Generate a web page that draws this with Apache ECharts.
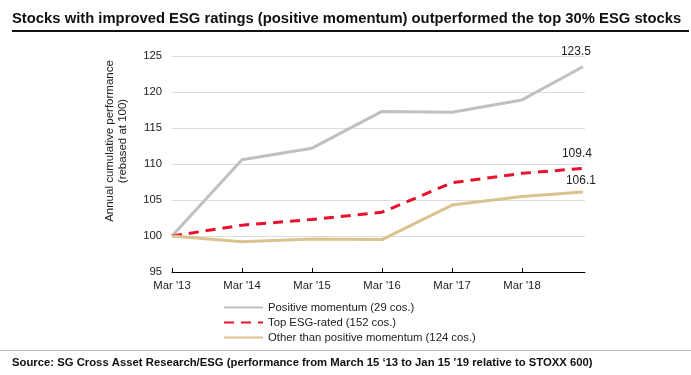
<!DOCTYPE html>
<html>
<head>
<meta charset="utf-8">
<script src="https://cdn.jsdelivr.net/npm/echarts@6/dist/echarts.min.js"></script>
<style>
  html, body { margin: 0; padding: 0; background: #fff; }
  #chart { width: 691px; height: 375px; }
</style>
</head>
<body>
<div id="chart"></div>
<script>
// x positions in years since Mar '13 (last point is Jan '19)
var xPos = [0, 1, 2, 3, 4, 5, 5.87];
var tickLabels = ["Mar '13", "Mar '14", "Mar '15", "Mar '16", "Mar '17", "Mar '18"];
var positiveMomentum = [100, 110.6, 112.2, 117.3, 117.2, 118.9, 123.5];
var topEsgRated = [100, 101.5, 102.3, 103.3, 107.4, 108.7, 109.4];
var otherThanPositive = [100, 99.2, 99.6, 99.5, 104.3, 105.5, 106.1];
var seriesNames = ['Positive momentum (29 cos.)', 'Top ESG-rated (152 cos.)', 'Other than positive momentum (124 cos.)'];

var FONT = 'Liberation Sans';

function pairs(values) {
  return values.map(function (v, i) { return [xPos[i], v]; });
}

function endLabel(offset) {
  return {
    show: true,
    offset: offset,
    color: '#222',
    fontSize: 12,
    fontFamily: FONT,
    formatter: function (p) { return p.value[1].toFixed(1); }
  };
}

var chart = echarts.init(document.getElementById('chart'));

var option = {
  animation: false,
  textStyle: { fontFamily: FONT },
  title: {
    text: 'Stocks with improved ESG ratings (positive momentum) outperformed the top 30% ESG stocks',
    left: 7,
    top: 6,
    textStyle: { fontSize: 14.8, fontWeight: 'bold', color: '#111', fontFamily: FONT }
  },
  grid: { left: 172, right: 106, top: 56, bottom: 103 },
  legend: {
    orient: 'vertical',
    left: 218,
    top: 297,
    itemWidth: 39,
    itemHeight: 12,
    itemGap: 4,
    itemStyle: { opacity: 0 },
    textStyle: { fontSize: 11.3, color: '#222', fontFamily: FONT },
    data: seriesNames
  },
  xAxis: {
    type: 'value',
    min: 0,
    max: 5.9,
    interval: 1,
    axisLine: { show: true, lineStyle: { color: '#000', width: 1 } },
    axisTick: { show: true, inside: true, length: 4, lineStyle: { color: '#000' } },
    splitLine: { show: false },
    axisLabel: {
      color: '#222',
      fontSize: 11.3,
      margin: 8,
      showMaxLabel: false,
      formatter: function (v) {
        var i = Math.round(v);
        return tickLabels[i] !== undefined && Math.abs(v - i) < 1e-6 ? tickLabels[i] : '';
      }
    }
  },
  yAxis: {
    type: 'value',
    min: 95,
    max: 125,
    interval: 5,
    axisLine: { show: false },
    axisTick: { show: false },
    splitLine: { show: true, lineStyle: { color: '#dcdcdc', width: 1 } },
    axisLabel: { color: '#222', fontSize: 11.3, margin: 10 }
  },
  graphic: [
    {
      type: 'rect',
      shape: { x: 12, y: 30, width: 677, height: 2 },
      style: { fill: '#111' }
    },
    {
      type: 'rect',
      shape: { x: 0, y: 350, width: 691, height: 1 },
      style: { fill: '#bdbdbd' }
    },
    {
      type: 'text',
      left: 12,
      top: 357,
      style: {
        text: "Source: SG Cross Asset Research/ESG (performance from March 15 \u201813 to Jan 15 \u201919 relative to STOXX 600)",
        font: 'bold 11.3px ' + FONT,
        fill: '#111'
      }
    },
    {
      type: 'text',
      x: 116,
      y: 141,
      rotation: Math.PI / 2,
      style: {
        text: 'Annual cumulative performance\n(rebased at 100)',
        font: '11.5px ' + FONT,
        fill: '#222',
        align: 'center',
        verticalAlign: 'middle',
        lineHeight: 13
      }
    }
  ],
  series: [
    {
      name: seriesNames[0],
      type: 'line',
      symbol: 'none',
      data: pairs(positiveMomentum),
      lineStyle: { color: '#c3bfbe', width: 3 },
      itemStyle: { color: '#c3bfbe' },
      endLabel: endLabel([-30, -15])
    },
    {
      name: seriesNames[1],
      type: 'line',
      symbol: 'none',
      data: pairs(topEsgRated),
      lineStyle: { color: '#e8112d', width: 3, type: [10, 7] },
      itemStyle: { color: '#e8112d' },
      endLabel: endLabel([-29, -15])
    },
    {
      name: seriesNames[2],
      type: 'line',
      symbol: 'none',
      data: pairs(otherThanPositive),
      lineStyle: { color: '#d9c38f', width: 3 },
      itemStyle: { color: '#d9c38f' },
      endLabel: endLabel([-25, -11])
    }
  ]
};

chart.setOption(option);
</script>
</body>
</html>
